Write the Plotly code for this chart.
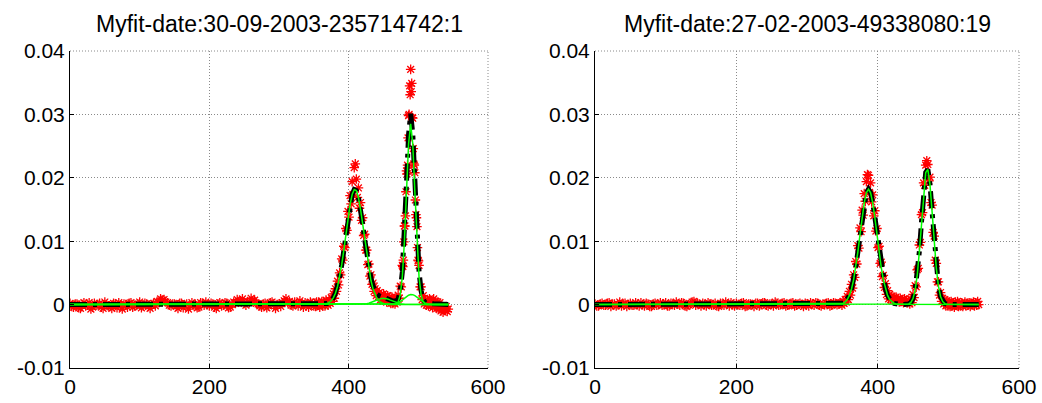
import plotly.graph_objects as go

# ---------------- data ----------------
titles = ["Myfit-date:30-09-2003-235714742:1", "Myfit-date:27-02-2003-49338080:19"]
x_ticks = [0, 200, 400, 600]
x_tick_text = ["0", "200", "400", "600"]
y_ticks = [-0.01, 0, 0.01, 0.02, 0.03, 0.04]
y_tick_text = ["-0.01", "0", "0.01", "0.02", "0.03", "0.04"]

# ---- left panel: measured points (red asterisks)
left_base_x = [0, 5, 10, 15, 20, 25, 30, 35, 40, 45, 50, 55, 60, 65, 70, 75, 80, 85, 90, 95,
               100, 105, 110, 115, 120, 125, 130, 135, 140, 145, 150, 155, 160, 165, 170, 175,
               180, 185, 190, 195, 200, 205, 210, 215, 220, 225, 230, 235, 240, 245, 250, 255,
               260, 265, 270, 275, 280, 285, 290, 295, 300, 305, 310, 315, 320, 325, 330, 335,
               340, 345, 350]
left_base_y = [0.0002, -0.0004, 0.0001, -0.0006, 0.0003, -0.0001, -0.0007, 0.0002, 0.0, -0.0004,
               0.0004, -0.0002, -0.0006, 0.0001, 0.0003, -0.0007, 0.0, 0.0002, -0.0004, -0.0001,
               0.0004, -0.0002, 0.0001, -0.0006, 0.0002, 0.0005, 0.0009, 0.0008, 0.0003, -0.0002,
               0.0001, -0.0006, 0.0002, -0.0001, -0.0007, 0.0003, 0.0, -0.0004, 0.0002, 0.0004,
               -0.0002, 0.0001, -0.0006, 0.0003, -0.0001, 0.0002, -0.0004, 0.0004, 0.0008, 0.0006,
               0.0002, 0.0005, 0.001, 0.0007, 0.0001, -0.0004, 0.0002, -0.0002, 0.0004, -0.0006,
               0.0001, 0.0003, 0.0009, 0.0005, -0.0002, 0.0002, 0.0006, -0.0004, 0.0001, 0.0004,
               -0.0002]
left_base2_x = [2.5, 7.5, 12.5, 17.5, 22.5, 27.5, 32.5, 37.5, 42.5, 47.5, 52.5, 57.5, 62.5, 67.5,
                72.5, 77.5, 82.5, 87.5, 92.5, 97.5, 102.5, 107.5, 112.5, 117.5, 122.5, 127.5,
                132.5, 137.5, 142.5, 147.5, 152.5, 157.5, 162.5, 167.5, 172.5, 177.5, 182.5,
                187.5, 192.5, 197.5, 202.5, 207.5, 212.5, 217.5, 222.5, 227.5, 232.5, 237.5,
                242.5, 247.5, 252.5, 257.5, 262.5, 267.5, 272.5, 277.5, 282.5, 287.5, 292.5,
                297.5, 302.5, 307.5, 312.5, 317.5, 322.5, 327.5, 332.5, 337.5, 342.5, 347.5]
left_base2_y = [-0.0003, 0.0001, -0.0005, 0.0, -0.0002, 0.0003, -0.0004, -0.0001, 0.0002, -0.0006,
                0.0, -0.0003, 0.0002, -0.0005, -0.0001, 0.0001, -0.0004, 0.0003, -0.0002, 0.0001,
                -0.0005, 0.0002, -0.0003, 0.0, -0.0002, 0.0003, 0.0007, 0.0004, -0.0001, 0.0001,
                -0.0003, 0.0002, -0.0005, 0.0001, -0.0002, 0.0, -0.0005, 0.0003, -0.0001, 0.0,
                0.0002, -0.0004, 0.0001, -0.0002, 0.0003, -0.0005, 0.0001, 0.0002, 0.0005, 0.0009,
                -0.0001, 0.0003, 0.0006, 0.0002, -0.0002, 0.0001, -0.0005, 0.0003, -0.0001, 0.0,
                -0.0003, 0.0006, 0.0003, -0.0001, 0.0004, -0.0002, 0.0001, 0.0003, -0.0004, 0.0002]
left_peak_x = [351, 352.5, 354, 355.5, 357, 358.5, 360, 361.5, 363, 364.5, 366, 367.5, 369, 370.5,
               372, 373.5, 375, 376.5, 378, 379.5, 381, 382.5, 384, 385.5, 387, 388.5, 390, 391.5,
               393, 394.5, 396, 397.5, 399, 400.5, 402, 403.5, 405, 406.5, 408, 409.5, 411, 412.5,
               414, 415.5, 417, 418.5, 420, 421.5, 423, 424.5, 426, 427.5, 429, 430.5, 432, 433.5,
               435, 436.5, 438, 439.5, 441, 442.5, 444, 445.5, 447, 448.5, 450, 451.5, 453, 454.5,
               456, 457.5, 459, 460.5, 462, 463.5, 465, 466.5, 468, 469.5, 471, 472.5, 474, 475.5,
               477, 478.5, 480, 481.5, 483, 484.5, 486, 487.5, 489, 490.5, 492, 493.5, 495, 496.5,
               498, 499.5, 501, 502.5, 504, 505.5, 507, 508.5, 510, 511.5, 513, 514.5, 516, 517.5,
               519, 520.5, 522, 523.5, 525, 526.5, 528, 529.5, 531, 532.5, 534, 535.5, 537, 538.5,
               540, 541.5, 543]
left_peak_y = [0.0002, -0.0003, 0.0004, -0.0001, 0.0004, -0.0004, 0.0001, 0.0005, -0.0002, 0.0004,
               -0.0002, 0.0007, 0.0004, -0.0001, 0.0007, 0.0002, 0.0011, 0.0005, 0.0017, 0.001,
               0.0025, 0.0021, 0.0037, 0.0031, 0.005, 0.0047, 0.0072, 0.007, 0.0092, 0.009,
               0.012, 0.0117, 0.0147, 0.0138, 0.0172, 0.0159, 0.0194, 0.0173, 0.0216, 0.0222,
               0.0198, 0.0169, 0.0184, 0.0152, 0.0161, 0.0133, 0.0137, 0.0109, 0.0111, 0.0086,
               0.0086, 0.0063, 0.0064, 0.0045, 0.0047, 0.0032, 0.0034, 0.0021, 0.0025, 0.0014,
               0.0022, 0.0012, 0.0019, 0.0007, 0.0016, 0.0007, 0.0017, 0.0007, 0.0013, 0.0004,
               0.0014, 0.0005, 0.0012, 0.0002, 0.0012, 0.0002, 0.0009, 0.0001, 0.0011, 0.0004,
               0.0015, 0.001, 0.0029, 0.0028, 0.0062, 0.007, 0.0124, 0.014, 0.0211, 0.022,
               0.0298, 0.0345, 0.0371, 0.0349, 0.0294, 0.0222, 0.0208, 0.0142, 0.0123, 0.007,
               0.0062, 0.0028, 0.0028, 0.0008, 0.0014, 0.0001, 0.0008, -0.0001, 0.0008, -0.0002,
               0.0009, -0.0001, 0.0006, -0.0005, 0.0009, -0.0003, 0.0005, -0.0006, 0.0004, -0.0007,
               0.0003, -0.001, -0.0004, -0.0012, -0.0006, -0.0009, -0.0003, -0.0011, -0.0007]
left_extra_x = [477.75, 479.25, 480.75, 482.25, 483.75, 485.25, 486.75, 488.25, 489.75, 491.25,
                492.75, 494.25, 495.75, 497.25, 498.75, 500.25]
left_extra_y = [0.006, 0.0099, 0.0124, 0.0178, 0.0206, 0.0263, 0.030, 0.0331, 0.0336, 0.0295,
                0.0246, 0.022, 0.0165, 0.0137, 0.009, 0.0069]

# ---- left panel: fitted sum (black dash-dot)
left_fit_x = [0, 351, 354, 357, 360, 363, 366, 369, 372, 375, 378, 381, 384, 387, 390, 393, 396,
              399, 402, 405, 408, 411, 414, 417, 420, 423, 426, 429, 432, 435, 438, 441, 444, 447,
              450, 453, 456, 459, 462, 465, 468, 471, 474, 477, 480, 483, 486, 489, 492, 495, 498,
              501, 504, 507, 510, 513, 516, 519, 522, 525, 528, 531, 534, 537, 540, 543]
left_fit_y = [0.0, 0.0, 0.0, 0.00001, 0.00002, 0.00004, 0.00008, 0.00016, 0.00032, 0.0006, 0.00106,
              0.00179, 0.00286, 0.00435, 0.00625, 0.00854, 0.01104, 0.01354, 0.01574, 0.01736,
              0.01815, 0.01799, 0.0169, 0.01508, 0.01276, 0.01027, 0.00788, 0.00579, 0.00412,
              0.00292, 0.00212, 0.00163, 0.00137, 0.00122, 0.00113, 0.00103, 0.00091, 0.00075,
              0.00064, 0.00055, 0.00055, 0.0009, 0.00211, 0.00515, 0.01095, 0.0191, 0.02684,
              0.03009, 0.02693, 0.01926, 0.0111, 0.00525, 0.00213, 0.0008, 0.00031, 0.0002,
              0.00018, 0.00015, 0.00012, 0.0001, 0.00008, 0.00006, 0.00005, 0.00004, 0.00003,
              0.00002]

# ---- left panel: fitted components (green)
left_c1_x = [0, 360, 363, 366, 369, 372, 375, 378, 381, 384, 387, 390, 393, 396, 399, 402, 405,
             408, 411, 414, 417, 420, 423, 426, 429, 432, 435, 438, 441, 444, 447, 450, 453, 456, 543]
left_c1_y = [0.0, 0.00002, 0.00004, 0.00008, 0.00016, 0.00032, 0.0006, 0.00106, 0.00179, 0.00286,
             0.00435, 0.00625, 0.00854, 0.01104, 0.01354, 0.01574, 0.01736, 0.01815, 0.01799,
             0.0169, 0.01506, 0.01272, 0.01019, 0.00774, 0.00557, 0.0038, 0.00246, 0.00151,
             0.00088, 0.00049, 0.00025, 0.00013, 0.00006, 0.00003, 0.0]
left_c2_x = [0, 465, 468, 471, 474, 477, 480, 483, 486, 489, 492, 495, 498, 501, 504, 507, 510, 513, 543]
left_c2_y = [0.0, 0.00002, 0.00009, 0.00042, 0.00153, 0.00438, 0.00994, 0.01785, 0.02536, 0.0285,
             0.02536, 0.01785, 0.00994, 0.00438, 0.00153, 0.00042, 0.00009, 0.00002, 0.0]
left_c3_x = [0, 420, 423, 426, 429, 432, 435, 438, 441, 444, 447, 450, 453, 456, 459, 462, 465,
             468, 471, 474, 477, 480, 543]
left_c3_y = [0.0, 0.00004, 0.00008, 0.00014, 0.00022, 0.00032, 0.00046, 0.00061, 0.00075, 0.00088,
             0.00097, 0.001, 0.00097, 0.00088, 0.00075, 0.00061, 0.00046, 0.00032, 0.00022,
             0.00014, 0.00008, 0.00004, 0.0]
left_c4_x = [0, 462, 465, 468, 471, 474, 477, 480, 483, 486, 489, 492, 495, 498, 501, 504, 507,
             510, 513, 516, 519, 543]
left_c4_y = [0.0, 0.00003, 0.00007, 0.00014, 0.00026, 0.00044, 0.00069, 0.00097, 0.00125, 0.00148,
             0.00159, 0.00157, 0.00141, 0.00116, 0.00087, 0.0006, 0.00038, 0.00022, 0.00011,
             0.00005, 0.00002, 0.0]

# ---- right panel: measured points
right_base_x = [0, 5, 10, 15, 20, 25, 30, 35, 40, 45, 50, 55, 60, 65, 70, 75, 80, 85, 90, 95,
                100, 105, 110, 115, 120, 125, 130, 135, 140, 145, 150, 155, 160, 165, 170, 175,
                180, 185, 190, 195, 200, 205, 210, 215, 220, 225, 230, 235, 240, 245, 250, 255,
                260, 265, 270, 275, 280, 285, 290, 295, 300, 305, 310, 315, 320, 325, 330, 335,
                340, 345]
right_base_y = [0.0001, -0.0002, 0.0002, -0.0001, 0.0003, 0.0, -0.0002, 0.0004, 0.0001, -0.0003,
                0.0002, -0.0001, 0.0, 0.0003, -0.0002, 0.0001, -0.0003, 0.0002, 0.0, -0.0001,
                0.0003, -0.0002, 0.0001, 0.0004, -0.0001, 0.0002, -0.0003, 0.0001, 0.0005, 0.0002,
                -0.0002, 0.0, 0.0003, -0.0001, 0.0002, -0.0003, 0.0001, 0.0004, -0.0002, 0.0,
                0.0002, -0.0001, 0.0003, -0.0002, 0.0001, -0.0003, 0.0002, 0.0, 0.0003, -0.0002,
                0.0001, 0.0004, -0.0001, 0.0002, -0.0002, 0.0, 0.0003, -0.0001, 0.0002, -0.0003,
                0.0001, 0.0003, -0.0001, 0.0002, -0.0002, 0.0, 0.0003, -0.0001, 0.0002, 0.0001]
right_base2_x = [2.5, 7.5, 12.5, 17.5, 22.5, 27.5, 32.5, 37.5, 42.5, 47.5, 52.5, 57.5, 62.5, 67.5,
                 72.5, 77.5, 82.5, 87.5, 92.5, 97.5, 102.5, 107.5, 112.5, 117.5, 122.5, 127.5,
                 132.5, 137.5, 142.5, 147.5, 152.5, 157.5, 162.5, 167.5, 172.5, 177.5, 182.5,
                 187.5, 192.5, 197.5, 202.5, 207.5, 212.5, 217.5, 222.5, 227.5, 232.5, 237.5,
                 242.5, 247.5, 252.5, 257.5, 262.5, 267.5, 272.5, 277.5, 282.5, 287.5, 292.5,
                 297.5, 302.5, 307.5, 312.5, 317.5, 322.5, 327.5, 332.5, 337.5, 342.5, 346.5]
right_base2_y = [-0.0002, 0.0001, -0.0001, 0.0002, -0.0003, 0.0001, 0.0, -0.0002, 0.0002, 0.0,
                 -0.0001, 0.0003, -0.0002, 0.0, 0.0002, -0.0003, 0.0001, -0.0001, 0.0003, 0.0,
                 -0.0002, 0.0002, -0.0001, 0.0001, 0.0003, -0.0002, 0.0, 0.0004, -0.0001, 0.0001,
                 0.0002, -0.0002, 0.0001, 0.0, -0.0002, 0.0002, -0.0001, 0.0001, 0.0003, -0.0002,
                 0.0, 0.0002, -0.0003, 0.0001, 0.0, 0.0002, -0.0002, 0.0003, -0.0001, 0.0001,
                 -0.0002, 0.0002, 0.0, 0.0003, -0.0001, 0.0002, -0.0002, 0.0001, 0.0, 0.0002,
                 -0.0002, 0.0001, 0.0003, -0.0001, 0.0001, 0.0002, -0.0002, 0.0003, 0.0, 0.0002]
right_peak_x = [348, 349.5, 351, 352.5, 354, 355.5, 357, 358.5, 360, 361.5, 363, 364.5, 366, 367.5,
                369, 370.5, 372, 373.5, 375, 376.5, 378, 379.5, 381, 382.5, 384, 385.5, 387, 388.5,
                390, 391.5, 393, 394.5, 396, 397.5, 399, 400.5, 402, 403.5, 405, 406.5, 408, 409.5,
                411, 412.5, 414, 415.5, 417, 418.5, 420, 421.5, 423, 424.5, 426, 427.5, 429, 430.5,
                432, 433.5, 435, 436.5, 438, 439.5, 441, 442.5, 444, 445.5, 447, 448.5, 450, 451.5,
                453, 454.5, 456, 457.5, 459, 460.5, 462, 463.5, 465, 466.5, 468, 469.5, 471, 472.5,
                474, 475.5, 477, 478.5, 480, 481.5, 483, 484.5, 486, 487.5, 489, 490.5, 492, 493.5,
                495, 496.5, 498, 499.5, 501, 502.5, 504, 505.5, 507, 508.5, 510, 511.5, 513, 514.5,
                516, 517.5, 519, 520.5, 522, 523.5, 525, 526.5, 528, 529.5, 531, 532.5, 534, 535.5,
                537, 538.5, 540, 541.5, 543]
right_peak_y = [0.0003, -0.0001, 0.0005, 0.0002, 0.0008, 0.0004, 0.0013, 0.0008, 0.0021, 0.0015,
                0.0032, 0.0026, 0.0047, 0.0043, 0.0068, 0.0064, 0.0093, 0.0089, 0.0121, 0.0115,
                0.0149, 0.0141, 0.0175, 0.0163, 0.0194, 0.0205, 0.0204, 0.0177, 0.0192, 0.0162,
                0.0173, 0.014, 0.0148, 0.0116, 0.012, 0.009, 0.0092, 0.0065, 0.0067, 0.0044,
                0.0046, 0.0027, 0.0033, 0.0016, 0.0022, 0.0009, 0.0016, 0.0008, 0.0013, 0.0007,
                0.0012, 0.0006, 0.0012, 0.0007, 0.0009, 0.0004, 0.001, 0.0005, 0.0008, 0.0003,
                0.0009, 0.0004, 0.0007, 0.0003, 0.0007, 0.0001, 0.0008, 0.0003, 0.0016, 0.0011,
                0.003, 0.0028, 0.0055, 0.0057, 0.0094, 0.0098, 0.0142, 0.0145, 0.0192, 0.0188,
                0.022, 0.0227, 0.0221, 0.0195, 0.0201, 0.0161, 0.0157, 0.0114, 0.0108, 0.007,
                0.0065, 0.0036, 0.0036, 0.0015, 0.0019, 0.0005, 0.001, 0.0001, 0.0008, -0.0002,
                0.0006, -0.0002, 0.0004, -0.0003, 0.0005, -0.0002, 0.0003, -0.0004, 0.0004, -0.0001,
                0.0005, -0.0003, 0.0002, -0.0002, 0.0003, -0.0003, 0.0001, 0.0004, -0.0002, 0.0002,
                -0.0001, 0.0003, -0.0003, 0.0002, 0.0, 0.0004, -0.0002, 0.0003, -0.0001, 0.0005, 0.0]

# ---- right panel: fitted sum
right_fit_x = [0, 348, 351, 354, 357, 360, 363, 366, 369, 372, 375, 378, 381, 384, 387, 390, 393,
               396, 399, 402, 405, 408, 411, 414, 417, 420, 423, 426, 429, 432, 435, 438, 441, 444,
               447, 450, 453, 456, 459, 462, 465, 468, 471, 474, 477, 480, 483, 486, 489, 492, 495,
               498, 501, 504, 507, 510, 513, 516, 519, 522, 525, 528, 531, 534, 537, 540, 543]
right_fit_y = [0.0, 0.00009, 0.0002, 0.00041, 0.0008, 0.00145, 0.00246, 0.00394, 0.00591, 0.00833,
               0.01104, 0.01374, 0.01606, 0.01764, 0.0182, 0.01764, 0.01606, 0.01374, 0.01104,
               0.00833, 0.00591, 0.00394, 0.00246, 0.00145, 0.0008, 0.00041, 0.0002, 0.00009,
               0.00004, 0.0, 0.0, 0.0, 0.00003, 0.00011, 0.00034, 0.00095, 0.00225, 0.00465,
               0.00836, 0.01304, 0.01769, 0.02084, 0.02133, 0.01897, 0.01466, 0.00985, 0.00574,
               0.00291, 0.00128, 0.00049, 0.00016, 0.00005, 0.0, 0.0, 0.0, 0.0, 0.0, 0.0, 0.0,
               0.0, 0.0, 0.0, 0.0, 0.0, 0.0, 0.0, 0.0]

# ---- right panel: components
right_c1_x = [0, 348, 351, 354, 357, 360, 363, 366, 369, 372, 375, 378, 381, 384, 387, 390, 393,
              396, 399, 402, 405, 408, 411, 414, 417, 420, 423, 426, 429, 543]
right_c1_y = [0.0, 0.00009, 0.0002, 0.00041, 0.0008, 0.00145, 0.00246, 0.00394, 0.00591, 0.00833,
              0.01104, 0.01374, 0.01606, 0.01764, 0.0182, 0.01764, 0.01606, 0.01374, 0.01104,
              0.00833, 0.00591, 0.00394, 0.00246, 0.00145, 0.0008, 0.00041, 0.0002, 0.00009,
              0.00004, 0.0]
right_c2_x = [0, 441, 444, 447, 450, 453, 456, 459, 462, 465, 468, 471, 474, 477, 480, 483, 486,
              489, 492, 495, 498, 543]
right_c2_y = [0.0, 0.00003, 0.00011, 0.00034, 0.00095, 0.00225, 0.00465, 0.00836, 0.01304, 0.01769,
              0.02084, 0.02133, 0.01897, 0.01466, 0.00985, 0.00574, 0.00291, 0.00128, 0.00049,
              0.00016, 0.00005, 0.0]

# ---------------- figure ----------------
W, H = 1042, 403
FONT = "Liberation Sans, Arial, Helvetica, sans-serif"
GRID = "#8a8a8a"
GRID_DASH = "1px,2px"

fig = go.Figure()


def add_panel(xa, ya, pts, fit, comps):
    for px, py in pts:
        fig.add_trace(go.Scatter(
            x=px, y=py, mode="markers", xaxis=xa, yaxis=ya, showlegend=False, hoverinfo="skip",
            marker=dict(symbol="asterisk-open", size=8, color="red",
                        line=dict(color="red", width=1.3))))
    fig.add_trace(go.Scatter(
        x=fit[0], y=fit[1], mode="lines", xaxis=xa, yaxis=ya, showlegend=False, hoverinfo="skip",
        line=dict(color="black", width=5, dash="17px,6px,4px,6px")))
    for cx, cy in comps:
        fig.add_trace(go.Scatter(
            x=cx, y=cy, mode="lines", xaxis=xa, yaxis=ya, showlegend=False, hoverinfo="skip",
            line=dict(color="#00ff00", width=1.5)))


add_panel("x", "y",
          [(left_base_x, left_base_y), (left_base2_x, left_base2_y),
           (left_peak_x, left_peak_y), (left_extra_x, left_extra_y)],
          (left_fit_x, left_fit_y),
          [(left_c1_x, left_c1_y), (left_c2_x, left_c2_y), (left_c3_x, left_c3_y),
           (left_c4_x, left_c4_y)])
add_panel("x2", "y2",
          [(right_base_x, right_base_y), (right_base2_x, right_base2_y),
           (right_peak_x, right_peak_y)],
          (right_fit_x, right_fit_y),
          [(right_c1_x, right_c1_y), (right_c2_x, right_c2_y)])

tickfont = dict(family=FONT, size=21, color="black")
xcommon = dict(range=[0, 600], tickmode="array", tickvals=x_ticks, ticktext=x_tick_text,
               showgrid=True, gridcolor=GRID, griddash=GRID_DASH, gridwidth=1, zeroline=False,
               showline=True, linecolor="black", linewidth=1, ticks="inside", ticklen=4,
               tickcolor="black", tickfont=tickfont, fixedrange=True, automargin=False)
ycommon = dict(range=[-0.01, 0.04], tickmode="array", tickvals=y_ticks, ticktext=y_tick_text,
               showgrid=True, gridcolor=GRID, griddash=GRID_DASH, gridwidth=1, zeroline=False,
               showline=True, linecolor="black", linewidth=1, ticks="inside", ticklen=4,
               tickcolor="black", tickfont=tickfont, fixedrange=True, automargin=False,
               domain=[1 - 368 / H, 1 - 51 / H])

left_dom = [70 / W, 488 / W]
right_dom = [595 / W, 1019 / W]

fig.update_layout(
    width=W, height=H, autosize=False,
    margin=dict(l=0, r=0, t=0, b=0),
    paper_bgcolor="white", plot_bgcolor="white",
    xaxis=dict(xcommon, domain=left_dom, anchor="y"),
    yaxis=dict(ycommon, anchor="x"),
    xaxis2=dict(xcommon, domain=right_dom, anchor="y2"),
    yaxis2=dict(ycommon, anchor="x2"),
    showlegend=False,
)

shapes = []
for xr, yr in (("x domain", "y domain"), ("x2 domain", "y2 domain")):
    shapes.append(dict(type="line", xref=xr, yref=yr, x0=0, x1=1, y0=1, y1=1,
                       line=dict(color=GRID, width=1, dash=GRID_DASH), layer="below"))
    shapes.append(dict(type="line", xref=xr, yref=yr, x0=1, x1=1, y0=0, y1=1,
                       line=dict(color=GRID, width=1, dash=GRID_DASH), layer="below"))
fig.update_layout(shapes=shapes)

for dom, t in zip((left_dom, right_dom), titles):
    fig.add_annotation(text=t, xref="paper", yref="paper", x=(dom[0] + dom[1]) / 2,
                       y=1 - 24 / H, xanchor="center", yanchor="middle", showarrow=False,
                       font=dict(family=FONT, size=23, color="black"))

fig.write_html("out.html", config={"displayModeBar": False, "staticPlot": True},
               post_script="document.body.style.margin='0';document.body.style.overflow='hidden';")
